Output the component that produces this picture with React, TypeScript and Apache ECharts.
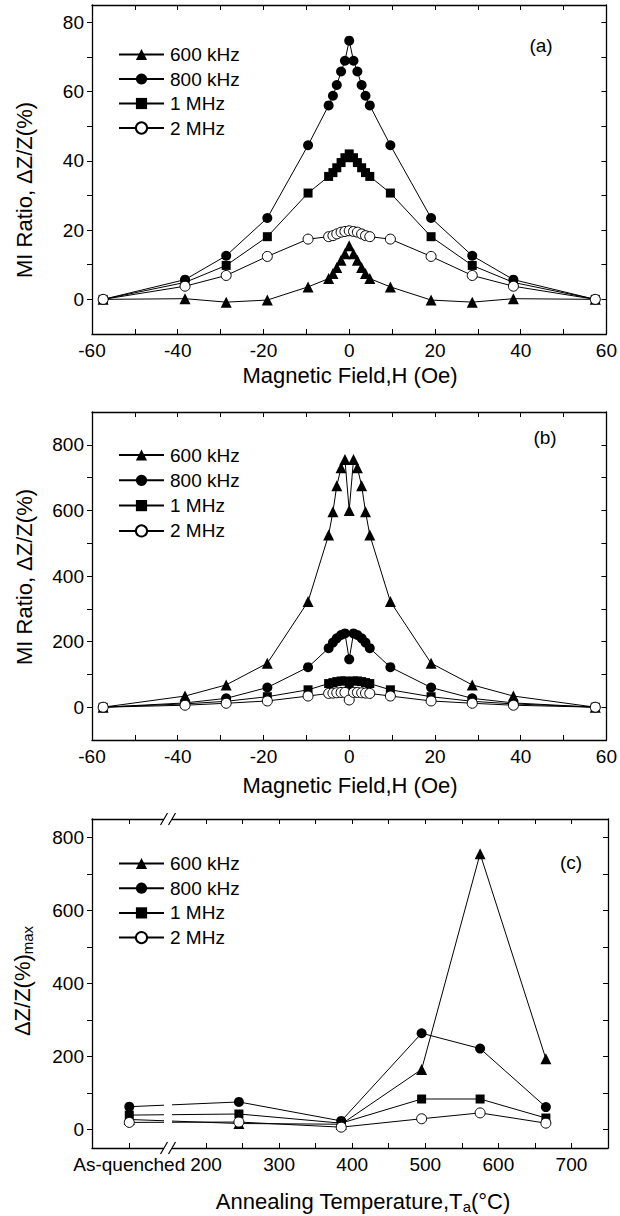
import React, { useEffect, useRef } from "react";
import * as echarts from "echarts";

const FONT = "'Liberation Sans', Arial, Helvetica, sans-serif";

const seriesNames = ["600 kHz", "800 kHz", "1 MHz", "2 MHz"];

// Panels (a) and (b): magnetic field H (Oe)
const fieldH = [-57.4, -38.3, -28.7, -19.1, -9.6, -4.8, -3.8, -2.9, -1.9, -1.0, 0, 1.0, 1.9, 2.9, 3.8, 4.8, 9.6, 19.1, 28.7, 38.3, 57.4];

// Panel (a) MI ratio (%)
const a600 = [0, 0.2, -0.8, -0.2, 3.6, 6.0, 7.5, 9.2, 11.3, 13.2, 15.5, 13.2, 11.3, 9.2, 7.5, 6.0, 3.6, -0.2, -0.8, 0.2, 0];
const a800 = [0, 5.7, 12.6, 23.5, 44.5, 56.0, 58.8, 61.9, 65.8, 68.9, 74.7, 68.9, 65.8, 61.9, 58.8, 56.0, 44.5, 23.5, 12.6, 5.7, 0];
const a1M = [0, 4.9, 9.8, 18.1, 30.7, 35.5, 36.6, 38.0, 39.5, 40.9, 42.0, 40.9, 39.5, 38.0, 36.6, 35.5, 30.7, 18.1, 9.8, 4.9, 0];
const a2M = [0, 3.8, 6.9, 12.4, 17.4, 18.1, 18.4, 18.9, 19.4, 19.6, 19.8, 19.6, 19.4, 18.9, 18.4, 18.1, 17.4, 12.4, 6.9, 3.8, 0];

// Panel (b) MI ratio (%)
const b600 = [0, 34, 68, 134, 322, 525, 596, 675, 730, 755, 600, 755, 730, 675, 596, 525, 322, 134, 68, 34, 0];
const b800 = [0, 13, 27, 60, 122, 180, 197, 210, 220, 225, 146, 225, 220, 210, 197, 180, 122, 60, 27, 13, 0];
const b1M = [0, 10, 18, 32, 53, 72, 75, 78, 80, 80, 60, 80, 80, 78, 75, 72, 53, 32, 18, 10, 0];
const b2M = [0, 6, 12, 19, 34, 42, 43, 44, 45, 45, 22, 45, 45, 44, 43, 42, 34, 19, 12, 6, 0];

// Panel (c): annealing temperature (95 = as-quenched position on the broken axis)
const annealT = [95, 245, 385, 495, 575, 665];
const c600 = [28, 17, 15, 165, 755, 194];
const c800 = [63, 76, 24, 264, 222, 62];
const c1M = [40, 43, 18, 84, 84, 32];
const c2M = [20, 21, 7, 30, 46, 18];
const asQuenchedT = 95;
const breakT = 148;

// Ticks and labels
const fieldTicks = [-60, -50, -40, -30, -20, -10, 0, 10, 20, 30, 40, 50, 60];
const fieldLabels = [-60, -40, -20, 0, 20, 40, 60];
const aTicks = [0, 10, 20, 30, 40, 50, 60, 70, 80];
const aLabels = [0, 20, 40, 60, 80];
const bTicks = [0, 100, 200, 300, 400, 500, 600, 700, 800];
const bLabels = [0, 200, 400, 600, 800];
const cTicks = [0, 100, 200, 300, 400, 500, 600, 700, 800];
const cLabels = [0, 200, 400, 600, 800];
const tempTicks = [95, 200, 250, 300, 350, 400, 450, 500, 550, 600, 650, 700];
const tempLabels = [95, 200, 300, 400, 500, 600, 700];

const markerStyles = [
  { symbol: "triangle", size: 11, fill: "#000", border: 0 },
  { symbol: "circle", size: 10, fill: "#000", border: 0 },
  { symbol: "rect", size: 9, fill: "#000", border: 0 },
  { symbol: "circle", size: 10, fill: "#fff", border: 1 },
];

const axisLineStyle = { color: "#000", width: 1.3 };
const labelStyle = { color: "#000", fontSize: 19, fontFamily: FONT };

function xAxisPair(gridIndex: number, min: number, max: number, ticks: number[], labels: number[], formatter?: any) {
  const bottom: any = {
    type: "value",
    gridIndex,
    position: "bottom",
    min,
    max,
    axisLine: { show: true, onZero: false, lineStyle: axisLineStyle },
    axisTick: { show: true, inside: true, length: 5, customValues: ticks, lineStyle: { color: "#000", width: 1 } },
    axisLabel: { show: true, customValues: labels, margin: 7, ...labelStyle },
    splitLine: { show: false },
  };
  if (formatter) bottom.axisLabel.formatter = formatter;
  const top = {
    type: "value",
    gridIndex,
    position: "top",
    min,
    max,
    axisLine: { show: true, onZero: false, lineStyle: axisLineStyle },
    axisTick: { show: true, inside: true, length: 5, customValues: ticks, lineStyle: { color: "#000", width: 1 } },
    axisLabel: { show: false },
    splitLine: { show: false },
  };
  return [bottom, top];
}

function yAxisPair(gridIndex: number, min: number, max: number, ticks: number[], labels: number[]) {
  const left = {
    type: "value",
    gridIndex,
    position: "left",
    min,
    max,
    axisLine: { show: true, onZero: false, lineStyle: axisLineStyle },
    axisTick: { show: true, inside: false, length: 5, customValues: ticks, lineStyle: { color: "#000", width: 1 } },
    axisLabel: { show: true, customValues: labels, margin: 8, ...labelStyle },
    splitLine: { show: false },
  };
  const right = {
    type: "value",
    gridIndex,
    position: "right",
    min,
    max,
    axisLine: { show: true, onZero: false, lineStyle: axisLineStyle },
    axisTick: { show: true, inside: true, length: 5, customValues: ticks, lineStyle: { color: "#000", width: 1 } },
    axisLabel: { show: false },
    splitLine: { show: false },
  };
  return [left, right];
}

function makeSeries(panel: number, xs: number[], ys: number[], k: number) {
  const st = markerStyles[k];
  return {
    type: "line",
    name: seriesNames[k],
    xAxisIndex: panel * 2,
    yAxisIndex: panel * 2,
    data: xs.map((x, i) => [x, ys[i]]),
    symbol: st.symbol,
    symbolSize: st.size,
    showSymbol: true,
    showAllSymbol: true,
    lineStyle: { color: "#000", width: 1 },
    itemStyle: { color: st.fill, borderColor: "#000", borderWidth: st.border, opacity: 1 },
    emphasis: { disabled: true },
    silent: true,
    z: 2,
  };
}

function makeLegend(top: number, gap: number) {
  return {
    left: 118,
    top,
    orient: "vertical",
    padding: 0,
    itemWidth: 45,
    itemHeight: 14,
    itemGap: gap,
    selectedMode: false,
    data: seriesNames,
    textStyle: { color: "#000", fontSize: 19, fontFamily: FONT, padding: [0, 0, 0, 1] },
  };
}

function plainText(x: number, y: number, text: string, size: number, rotation = 0, rich?: any) {
  return {
    type: "text",
    x,
    y,
    rotation,
    z: 60,
    style: {
      text,
      fill: "#000",
      fontSize: size,
      fontFamily: FONT,
      align: "center",
      verticalAlign: "middle",
      rich,
    },
  };
}

export default function App() {
  const ref = useRef<HTMLDivElement>(null);

  useEffect(() => {
    if (!ref.current) return;
    const chart = echarts.init(ref.current, undefined, { renderer: "svg" });

    const [ax0, ax1] = xAxisPair(0, -60, 60, fieldTicks, fieldLabels);
    const [bx0, bx1] = xAxisPair(1, -60, 60, fieldTicks, fieldLabels);
    const [cx0, cx1] = xAxisPair(2, 44, 750, tempTicks, tempLabels, (v: number) =>
      v === asQuenchedT ? "As-quenched" : String(v)
    );
    const [ay0, ay1] = yAxisPair(0, -10, 85, aTicks, aLabels);
    const [by0, by1] = yAxisPair(1, -100, 900, bTicks, bLabels);
    const [cy0, cy1] = yAxisPair(2, -50, 850, cTicks, cLabels);

    const option: any = {
      animation: false,
      backgroundColor: "#fff",
      textStyle: { fontFamily: FONT },
      grid: [
        { left: 92, top: 5, width: 516, height: 329, containLabel: false },
        { left: 92, top: 412, width: 516, height: 328, containLabel: false },
        { left: 92, top: 819, width: 516, height: 329, containLabel: false },
      ],
      xAxis: [ax0, ax1, bx0, bx1, cx0, cx1],
      yAxis: [ay0, ay1, by0, by1, cy0, cy1],
      legend: [makeLegend(45, 5.5), makeLegend(445.5, 6.3), makeLegend(854, 5.7)],
      series: [
        makeSeries(0, fieldH, a600, 0),
        makeSeries(0, fieldH, a800, 1),
        makeSeries(0, fieldH, a1M, 2),
        makeSeries(0, fieldH, a2M, 3),
        makeSeries(1, fieldH, b600, 0),
        makeSeries(1, fieldH, b800, 1),
        makeSeries(1, fieldH, b1M, 2),
        makeSeries(1, fieldH, b2M, 3),
        makeSeries(2, annealT, c600, 0),
        makeSeries(2, annealT, c800, 1),
        makeSeries(2, annealT, c1M, 2),
        makeSeries(2, annealT, c2M, 3),
      ],
    };
    chart.setOption(option);

    const bxPix = chart.convertToPixel({ xAxisIndex: 4 }, breakT) as unknown as number;
    const yTop = chart.convertToPixel({ yAxisIndex: 4 }, 850) as unknown as number;
    const yBot = chart.convertToPixel({ yAxisIndex: 4 }, -50) as unknown as number;
    const yHi = chart.convertToPixel({ yAxisIndex: 4 }, 130) as unknown as number;

    const breakEls: any[] = [
      { type: "rect", z: 50, shape: { x: bxPix - 4, y: yHi, width: 8, height: yBot - yHi + 3 }, style: { fill: "#fff" } },
      { type: "rect", z: 50, shape: { x: bxPix - 4, y: yTop - 3, width: 8, height: 6 }, style: { fill: "#fff" } },
    ];
    [yTop, yBot].forEach((yy) => {
      [-4, 4].forEach((dx) => {
        breakEls.push({
          type: "line",
          z: 51,
          shape: { x1: bxPix + dx - 3.5, y1: yy + 6, x2: bxPix + dx + 3.5, y2: yy - 6 },
          style: { stroke: "#000", lineWidth: 1.2 },
        });
      });
    });

    const subRich = {
      m: { fontSize: 22, fontFamily: FONT, fill: "#000" },
      s: { fontSize: 15, fontFamily: FONT, fill: "#000", padding: [11, 0, 0, 0] },
    };

    const texts: any[] = [
      plainText(541, 45, "(a)", 19),
      plainText(545, 437, "(b)", 19),
      plainText(571, 862, "(c)", 19),
      plainText(350, 375, "Magnetic Field,H (Oe)", 22),
      plainText(350, 785, "Magnetic Field,H (Oe)", 22),
      plainText(363, 1201, "{m|Annealing Temperature,T}{s|a}{m|(°C)}", 22, 0, subRich),
      plainText(24, 190, "MI Ratio, ΔZ/Z(%)", 22, Math.PI / 2),
      plainText(24, 577, "MI Ratio, ΔZ/Z(%)", 22, Math.PI / 2),
      plainText(22, 981, "{m|ΔZ/Z(%)}{s|max}", 22, Math.PI / 2, subRich),
    ];

    chart.setOption({ graphic: [...breakEls, ...texts] });

    return () => {
      chart.dispose();
    };
  }, []);

  return (
    <div
      ref={ref}
      style={{ position: "absolute", left: 0, top: 0, width: 620, height: 1216, background: "#fff" }}
    />
  );
}
